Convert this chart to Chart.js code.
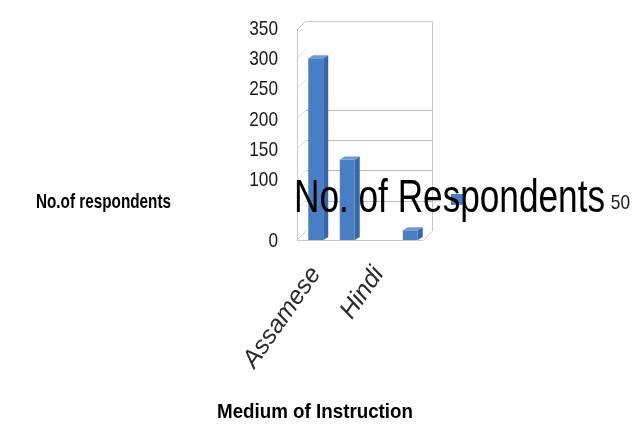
<!DOCTYPE html>
<html>
<head>
<meta charset="utf-8">
<script src="https://cdn.jsdelivr.net/npm/chart.js@4/dist/chart.umd.min.js"></script>
<style>
  html, body { margin: 0; padding: 0; background: #fff; }
  canvas { display: block; }
</style>
</head>
<body>
<canvas id="chartCanvas" width="635" height="427"></canvas>
<script>
// Số liệu biểu đồ
const mediums = ['Assamese', 'English', 'Hindi', 'Bengali'];
const respondents = [300, 133, 0, 16];
const shownLabels = ['Assamese', 'Hindi'];   // Excel bỏ bớt nhãn trục x
const yTicks = [0, 50, 100, 150, 200, 250, 300, 350];
const backGridValues = [50, 100, 150, 200];

const seriesName = 'No. of Respondents';
const yTitle = 'No.of respondents';
const xTitle = 'Medium of Instruction';

const SANS = '"Liberation Sans", Arial, sans-serif';
const BOX_DX = 9, BOX_DY = 9;   // độ sâu của khung 3D
const BAR_DX = 5, BAR_DY = 3;   // độ sâu của cột

// Vẽ chữ bị ép ngang theo tỉ lệ sx
function squashText(ctx, str, x, y, font, sx, align, baseline, color) {
  ctx.save();
  ctx.font = font;
  ctx.fillStyle = color || '#000';
  ctx.textAlign = align || 'left';
  ctx.textBaseline = baseline || 'alphabetic';
  ctx.translate(x, y);
  ctx.scale(sx, 1);
  ctx.fillText(str, 0, 0);
  ctx.restore();
}

// Vẽ chữ co giãn theo chiều ngang cho vừa bề rộng cho trước
function fitText(ctx, str, x, yBase, width, font, color) {
  ctx.save();
  ctx.font = font;
  const w = ctx.measureText(str).width;
  ctx.restore();
  squashText(ctx, str, x, yBase, font, width / w, 'left', 'alphabetic', color);
}

// Khung 3D: tường sau, tường trái, sàn
const box3d = {
  id: 'box3d',
  beforeDatasetsDraw(chart) {
    const { ctx, chartArea, scales } = chart;
    const y = scales.y;
    const fl = chartArea.left - 3, fr = chartArea.right - 3;
    const bl = fl + BOX_DX, br = fr + BOX_DX;
    const top = Math.round(y.getPixelForValue(350) - BOX_DY + 2);
    const floor = Math.round(y.getPixelForValue(0));
    ctx.save();
    ctx.strokeStyle = '#c9c9c9';
    ctx.lineWidth = 1;
    ctx.beginPath();
    // cạnh trên và cạnh phải tường sau
    ctx.moveTo(bl, top + 0.5); ctx.lineTo(br, top + 0.5);
    ctx.moveTo(br + 0.5, top); ctx.lineTo(br + 0.5, floor - BOX_DY);
    // cạnh trái phía trước
    ctx.moveTo(fl + 0.5, top + BOX_DY); ctx.lineTo(fl + 0.5, floor);
    ctx.moveTo(fl, top + BOX_DY); ctx.lineTo(bl, top);
    // sàn
    ctx.moveTo(fl, floor + 0.5); ctx.lineTo(fr, floor + 0.5);
    ctx.lineTo(br, floor - BOX_DY + 0.5);
    ctx.moveTo(fl, floor); ctx.lineTo(bl, floor - BOX_DY);
    ctx.stroke();

    // lưới trên tường sau
    ctx.strokeStyle = '#bfbfbf';
    ctx.beginPath();
    backGridValues.forEach(v => {
      const py = Math.round(y.getPixelForValue(v) - BOX_DY) + 0.5;
      ctx.moveTo(bl, py); ctx.lineTo(br, py);
    });
    ctx.stroke();

    // vạch chéo trên tường trái
    ctx.strokeStyle = '#dadada';
    ctx.beginPath();
    yTicks.forEach(v => {
      if (v === 0 || v === 350) return;
      const py = y.getPixelForValue(v);
      ctx.moveTo(fl, py); ctx.lineTo(bl, py - BOX_DY);
    });
    ctx.stroke();
    ctx.restore();
  },
  afterDatasetsDraw(chart) {
    const { ctx } = chart;
    const meta = chart.getDatasetMeta(0);
    ctx.save();
    meta.data.forEach((bar, i) => {
      if (!respondents[i]) return;
      const { x, y, width, base } = bar.getProps(['x', 'y', 'width', 'base'], true);
      const l = x - width / 2, r = x + width / 2;
      // mặt bên
      ctx.fillStyle = '#3a67a3';
      ctx.beginPath();
      ctx.moveTo(r, y); ctx.lineTo(r + BAR_DX, y - BAR_DY);
      ctx.lineTo(r + BAR_DX, base - BAR_DY); ctx.lineTo(r, base);
      ctx.closePath(); ctx.fill();
      // mặt trên
      ctx.fillStyle = '#6b9ad8';
      ctx.beginPath();
      ctx.moveTo(l, y); ctx.lineTo(l + BAR_DX, y - BAR_DY);
      ctx.lineTo(r + BAR_DX, y - BAR_DY); ctx.lineTo(r, y);
      ctx.closePath(); ctx.fill();
    });
    ctx.restore();
  },
  afterDraw(chart) {
    const { ctx, scales } = chart;
    const y = scales.y;
    // nhãn trục y (chữ hẹp), riêng 50 bị đẩy sang phải
    yTicks.forEach(v => {
      if (v === 50) return;
      squashText(ctx, String(v), 278, y.getPixelForValue(v) + 1, '21px ' + SANS, 0.82, 'right', 'middle', '#1a1a1a');
    });
    // tiêu đề trục
    fitText(ctx, yTitle, 36, 208, 135, 'bold 21px ' + SANS, '#000');
    fitText(ctx, xTitle, 217, 418, 196, 'bold 21px ' + SANS, '#000');
    // ô màu chú giải nằm dưới tên chuỗi
    ctx.save();
    ctx.fillStyle = '#4a7ec4';
    ctx.fillRect(451, 194, 13, 11);
    ctx.restore();
    fitText(ctx, seriesName, 294, 212, 311, '47px ' + SANS, '#000');
    squashText(ctx, '50', 630, 209, '21px ' + SANS, 0.82, 'right', 'alphabetic', '#1a1a1a');
  }
};

const ctx = document.getElementById('chartCanvas').getContext('2d');
const chart = new Chart(ctx, {
  type: 'bar',
  data: {
    labels: mediums,
    datasets: [{
      label: seriesName,
      data: respondents,
      backgroundColor: '#4a7ec4',
      borderWidth: 0,
      barPercentage: 0.95,
      categoryPercentage: 0.5
    }]
  },
  options: {
    responsive: false,
    animation: false,
    layout: { padding: { top: 28, right: 209, left: 0, bottom: 0 } },
    plugins: {
      legend: { display: false },
      tooltip: { enabled: false }
    },
    scales: {
      x: {
        grid: { display: false, drawTicks: false },
        border: { display: false },
        afterFit: s => { s.height = 187; },
        ticks: {
          autoSkip: false,
          minRotation: 55,
          maxRotation: 55,
          padding: 21,
          color: '#2a2a2a',
          font: { family: SANS, size: 25, style: 'italic' },
          callback: function (val, i) {
            const name = mediums[i];
            return shownLabels.includes(name) ? name : '';
          }
        }
      },
      y: {
        min: 0,
        max: 350,
        grid: { display: false, drawTicks: false },
        border: { display: false },
        afterFit: s => { s.width = 300; },
        ticks: { stepSize: 50, display: false }
      }
    }
  },
  plugins: [box3d]
});
</script>
</body>
</html>
